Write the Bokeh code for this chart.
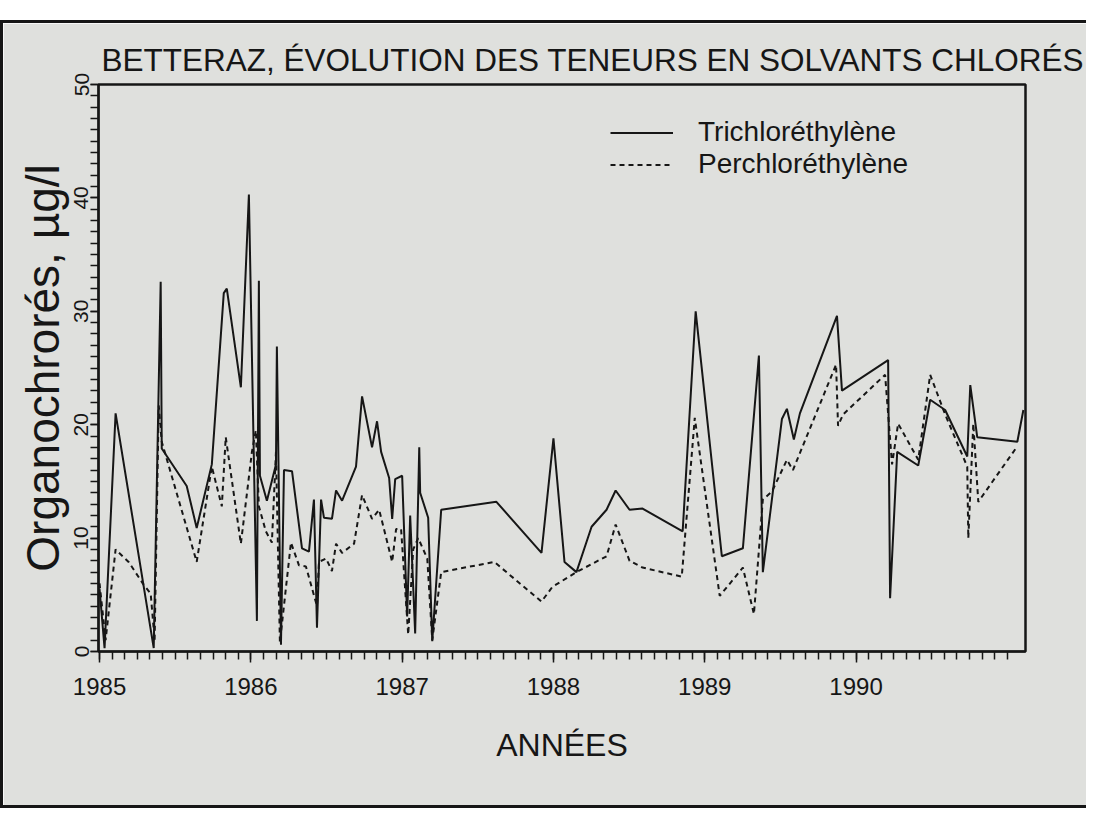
from bokeh.plotting import figure
from bokeh.models import FixedTicker, Range1d, Legend, LegendItem
from bokeh.embed import file_html
from bokeh.resources import INLINE

title_text = "BETTERAZ, ÉVOLUTION DES TENEURS EN SOLVANTS CHLORÉS"
x_label = "ANNÉES"
y_label = "Organochrorés, µg/l"
series_names = ["Trichloréthylène", "Perchloréthylène"]

year_ticks = [1985, 1986, 1987, 1988, 1989, 1990]
value_ticks = [0, 10, 20, 30, 40, 50]

tri_years = [1985.000, 1985.033, 1985.106, 1985.358, 1985.404, 1985.411, 1985.576, 1985.642,
             1985.742, 1985.821, 1985.841, 1985.934, 1985.987, 1986.040, 1986.053, 1986.060,
             1986.106, 1986.166, 1986.172, 1986.199, 1986.219, 1986.272, 1986.338, 1986.384,
             1986.417, 1986.437, 1986.464, 1986.483, 1986.536, 1986.563, 1986.603, 1986.695,
             1986.735, 1986.801, 1986.834, 1986.861, 1986.914, 1986.934, 1986.954, 1987.000,
             1987.033, 1987.053, 1987.086, 1987.113, 1987.119, 1987.172, 1987.199, 1987.258,
             1987.623, 1987.921, 1988.000, 1988.073, 1988.152, 1988.252, 1988.351, 1988.411,
             1988.503, 1988.589, 1988.854, 1988.940, 1989.113, 1989.252, 1989.358, 1989.384,
             1989.510, 1989.543, 1989.589, 1989.629, 1989.874, 1989.907, 1990.212, 1990.225,
             1990.272, 1990.411, 1990.490, 1990.589, 1990.735, 1990.755, 1990.801, 1991.066,
             1991.106]
tri_values = [5.5, 0.3, 21.0, 0.3, 32.6, 17.9, 14.6, 10.9,
              16.5, 31.6, 32.0, 23.3, 40.3, 2.7, 32.7, 15.5,
              13.3, 16.5, 26.9, 0.6, 16.0, 15.9, 9.1, 8.8,
              13.4, 2.1, 13.4, 11.8, 11.7, 14.2, 13.3, 16.3,
              22.5, 18.0, 20.3, 17.6, 15.3, 11.7, 15.2, 15.5,
              3.1, 12.0, 1.6, 18.0, 14.0, 11.8, 0.9, 12.5,
              13.2, 8.7, 18.8, 7.9, 7.0, 11.0, 12.5, 14.2,
              12.5, 12.6, 10.6, 30.0, 8.4, 9.1, 26.1, 7.0,
              20.5, 21.4, 18.7, 21.0, 29.6, 23.0, 25.7, 4.7,
              17.6, 16.4, 22.2, 21.3, 17.2, 23.5, 18.9, 18.5,
              21.3]

per_years = [1985.000, 1985.040, 1985.106, 1985.192, 1985.291, 1985.338, 1985.364, 1985.391,
             1985.411, 1985.642, 1985.742, 1985.808, 1985.834, 1985.934, 1986.007, 1986.033,
             1986.053, 1986.099, 1986.139, 1986.166, 1986.192, 1986.265, 1986.318, 1986.364,
             1986.437, 1986.450, 1986.497, 1986.536, 1986.563, 1986.603, 1986.682, 1986.735,
             1986.801, 1986.848, 1986.934, 1986.960, 1986.993, 1987.040, 1987.073, 1987.106,
             1987.166, 1987.199, 1987.258, 1987.609, 1987.921, 1987.993, 1988.152, 1988.351,
             1988.411, 1988.503, 1988.589, 1988.848, 1988.934, 1989.099, 1989.252, 1989.325,
             1989.384, 1989.444, 1989.543, 1989.583, 1989.868, 1989.881, 1989.914, 1990.192,
             1990.238, 1990.278, 1990.411, 1990.490, 1990.589, 1990.735, 1990.742, 1990.775,
             1990.808, 1991.066]
per_values = [6.0, 1.0, 9.0, 7.9, 5.9, 5.1, 1.0, 21.7,
              18.5, 7.9, 16.3, 12.8, 18.9, 9.5, 17.6, 19.5,
              12.8, 10.6, 9.6, 17.6, 0.8, 9.6, 7.6, 7.5,
              4.0, 7.9, 8.2, 7.1, 9.5, 8.7, 9.5, 13.8,
              11.7, 12.5, 7.9, 10.8, 10.8, 1.5, 9.0, 10.0,
              8.2, 1.0, 7.0, 7.9, 4.4, 5.7, 7.0, 8.4,
              11.2, 8.0, 7.4, 6.6, 20.6, 4.9, 7.4, 3.3,
              13.4, 14.1, 16.9, 16.0, 25.3, 19.9, 20.9, 24.4,
              16.5, 20.1, 16.9, 24.4, 20.9, 16.3, 10.0, 20.1,
              13.2, 18.1]

paper = "#dfe0dd"
ink = "#161616"
font = "Liberation Sans"

p = figure(width=1086, height=788, output_backend="svg", toolbar_location=None,
           x_range=Range1d(1984.993, 1991.12), y_range=Range1d(0, 50),
           min_border_left=95, min_border_right=64, min_border_top=61, min_border_bottom=160)

p.background_fill_color = paper
p.border_fill_color = paper
p.outline_line_color = ink
p.outline_line_width = 2.5
p.xgrid.visible = False
p.ygrid.visible = False

p.title.text = title_text
p.title.align = "left"
p.title.offset = 3
p.title.standoff = 13
p.title.text_font = font
p.title.text_font_size = "31.5px"
p.title.text_font_style = "normal"
p.title.text_color = ink

minor_months = [1985 + i / 12 for i in range(0, 73)]
p.xaxis.ticker = FixedTicker(ticks=year_ticks, minor_ticks=minor_months)
p.yaxis.ticker = FixedTicker(ticks=value_ticks, minor_ticks=list(range(0, 51)))

for ax in (p.xaxis[0], p.yaxis[0]):
    ax.axis_line_color = ink
    ax.axis_line_width = 2
    ax.major_tick_line_color = ink
    ax.minor_tick_line_color = ink
    ax.major_tick_line_width = 1.5
    ax.minor_tick_line_width = 1.5
    ax.major_tick_in = 0
    ax.minor_tick_in = 0
    ax.major_label_text_font = font
    ax.major_label_text_color = ink
    ax.axis_label_text_font = font
    ax.axis_label_text_font_style = "normal"
    ax.axis_label_text_color = ink

p.xaxis.major_tick_out = 11
p.xaxis.minor_tick_out = 8
p.xaxis.major_label_text_font_size = "24px"
p.xaxis.major_label_standoff = 15
p.xaxis.axis_label = x_label
p.xaxis.axis_label_text_font_size = "32px"
p.xaxis.axis_label_standoff = 29

p.yaxis.major_tick_out = 8
p.yaxis.minor_tick_out = 8
p.yaxis.major_label_orientation = "vertical"
p.yaxis.major_label_text_font_size = "21px"
p.yaxis.major_label_standoff = 2
p.yaxis.axis_label = y_label
p.yaxis.axis_label_text_font_size = "46px"
p.yaxis.axis_label_standoff = 3

r_tri = p.line(tri_years, tri_values, line_color=ink, line_width=2)
r_per = p.line(per_years, per_values, line_color=ink, line_width=2, line_dash="5 4")

legend = Legend(items=[LegendItem(label=series_names[0], renderers=[r_tri]),
                       LegendItem(label=series_names[1], renderers=[r_per])],
                location=(512, 471))
legend.padding = 0
legend.margin = 0
legend.spacing = 0
legend.border_line_color = None
legend.background_fill_alpha = 0
legend.glyph_width = 63
legend.glyph_height = 29
legend.label_height = 29
legend.label_standoff = 25
legend.label_text_font = font
legend.label_text_font_size = "28px"
legend.label_text_color = ink
p.add_layout(legend)

p.styles = {"border-top": "3px solid #161616", "border-left": "3px solid #161616",
            "border-bottom": "3px solid #161616", "margin-top": "20px"}

open("out.html", "w").write(file_html(p, INLINE))
